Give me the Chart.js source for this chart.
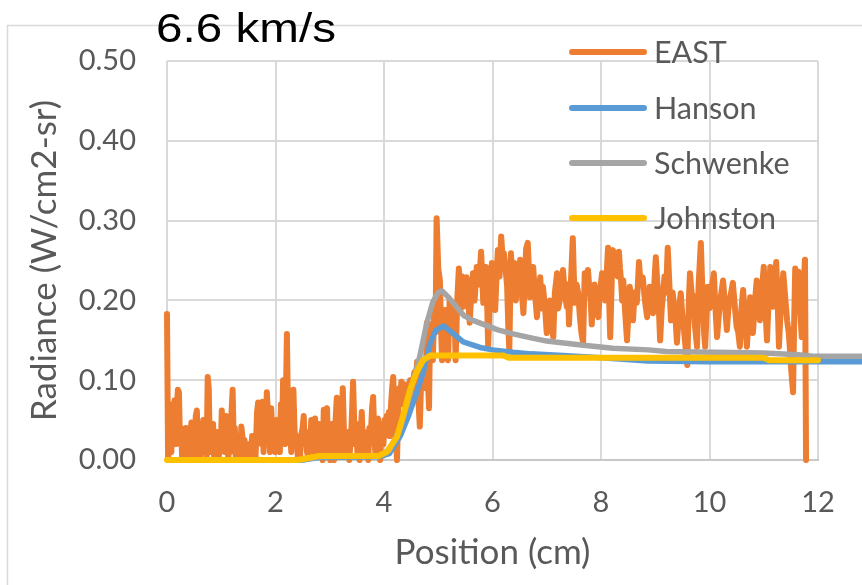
<!DOCTYPE html>
<html>
<head>
<meta charset="utf-8">
<script src="https://cdn.jsdelivr.net/npm/chart.js@4/dist/chart.umd.min.js"></script>
<style>
  html, body { margin: 0; padding: 0; background: #ffffff; }
  #wrap { width: 862px; height: 585px; }
</style>
</head>
<body>
<div id="wrap"><canvas id="c" width="862" height="585"></canvas></div>
<script>
// Measured radiance profile (EAST), position in cm
const eastX = [
  0.00, 0.02, 0.04, 0.06, 0.08, 0.10, 0.12, 0.14, 0.16, 0.18,
  0.20, 0.22, 0.24, 0.26, 0.28, 0.30, 0.32, 0.35, 0.37, 0.39,
  0.41, 0.43, 0.45, 0.47, 0.49, 0.51, 0.53, 0.55, 0.57, 0.59,
  0.61, 0.63, 0.65, 0.67, 0.69, 0.71, 0.73, 0.75, 0.77, 0.79,
  0.81, 0.83, 0.85, 0.87, 0.89, 0.91, 0.93, 0.95, 0.97, 0.99,
  1.01, 1.03, 1.05, 1.07, 1.09, 1.11, 1.13, 1.15, 1.17, 1.19,
  1.21, 1.23, 1.25, 1.27, 1.29, 1.31, 1.33, 1.35, 1.37, 1.39,
  1.41, 1.43, 1.45, 1.48, 1.50, 1.52, 1.54, 1.57, 1.59, 1.61,
  1.63, 1.66, 1.68, 1.70, 1.72, 1.74, 1.76, 1.78, 1.80, 1.82,
  1.84, 1.86, 1.88, 1.90, 1.92, 1.94, 1.96, 1.98, 2.00, 2.02,
  2.04, 2.06, 2.08, 2.10, 2.12, 2.14, 2.16, 2.18, 2.21, 2.23,
  2.25, 2.27, 2.29, 2.31, 2.33, 2.35, 2.37, 2.39, 2.41, 2.43,
  2.45, 2.47, 2.50, 2.52, 2.54, 2.56, 2.58, 2.60, 2.62, 2.64,
  2.66, 2.68, 2.70, 2.73, 2.75, 2.77, 2.79, 2.81, 2.83, 2.85,
  2.87, 2.89, 2.91, 2.93, 2.95, 2.97, 2.99, 3.01, 3.04, 3.06,
  3.08, 3.10, 3.13, 3.15, 3.17, 3.19, 3.21, 3.24, 3.26, 3.28,
  3.30, 3.32, 3.34, 3.36, 3.38, 3.40, 3.43, 3.45, 3.47, 3.49,
  3.51, 3.53, 3.55, 3.57, 3.59, 3.61, 3.63, 3.65, 3.67, 3.69,
  3.71, 3.73, 3.75, 3.78, 3.80, 3.82, 3.84, 3.86, 3.89, 3.91,
  3.93, 3.95, 3.97, 3.99, 4.01, 4.03, 4.05, 4.07, 4.09, 4.11,
  4.13, 4.15, 4.17, 4.19, 4.21, 4.24, 4.26, 4.28, 4.30, 4.32,
  4.34, 4.37, 4.39, 4.41, 4.43, 4.45, 4.48, 4.50, 4.52, 4.54,
  4.56, 4.58, 4.61, 4.63, 4.66, 4.68, 4.70, 4.72, 4.74, 4.77,
  4.79, 4.81, 4.83, 4.85, 4.87, 4.90, 4.93, 4.95, 4.97, 5.00,
  5.03, 5.05, 5.07, 5.10, 5.12, 5.15, 5.18, 5.21, 5.24, 5.27,
  5.30, 5.32, 5.35, 5.38, 5.40, 5.42, 5.44, 5.46, 5.49, 5.52,
  5.55, 5.58, 5.61, 5.64, 5.67, 5.71, 5.75, 5.79, 5.81, 5.83,
  5.86, 5.88, 5.90, 5.92, 5.95, 5.99, 6.02, 6.05, 6.08, 6.10,
  6.13, 6.16, 6.19, 6.21, 6.24, 6.27, 6.29, 6.31, 6.34, 6.37,
  6.40, 6.43, 6.45, 6.48, 6.51, 6.54, 6.57, 6.60, 6.62, 6.65,
  6.67, 6.69, 6.72, 6.75, 6.78, 6.82, 6.85, 6.88, 6.91, 6.93,
  6.97, 7.00, 7.03, 7.06, 7.09, 7.12, 7.15, 7.19, 7.21, 7.24,
  7.27, 7.30, 7.33, 7.37, 7.39, 7.41, 7.45, 7.48, 7.50, 7.52,
  7.55, 7.58, 7.61, 7.64, 7.67, 7.70, 7.73, 7.76, 7.78, 7.81,
  7.83, 7.85, 7.88, 7.91, 7.95, 7.98, 8.02, 8.05, 8.08, 8.11,
  8.13, 8.15, 8.17, 8.20, 8.22, 8.26, 8.29, 8.31, 8.33, 8.35,
  8.37, 8.39, 8.41, 8.45, 8.48, 8.51, 8.53, 8.56, 8.59, 8.62,
  8.66, 8.68, 8.70, 8.73, 8.77, 8.81, 8.85, 8.88, 8.90, 8.93,
  8.96, 8.99, 9.01, 9.04, 9.06, 9.09, 9.12, 9.14, 9.17, 9.20,
  9.23, 9.26, 9.29, 9.32, 9.35, 9.38, 9.40, 9.44, 9.47, 9.50,
  9.53, 9.56, 9.59, 9.62, 9.64, 9.67, 9.70, 9.73, 9.77, 9.80,
  9.84, 9.86, 9.88, 9.90, 9.92, 9.95, 9.97, 10.00, 10.02, 10.05,
  10.08, 10.11, 10.14, 10.17, 10.19, 10.22, 10.25, 10.29, 10.32, 10.35,
  10.37, 10.40, 10.43, 10.47, 10.50, 10.53, 10.56, 10.59, 10.62, 10.66,
  10.69, 10.72, 10.75, 10.78, 10.80, 10.84, 10.87, 10.90, 10.93, 10.96,
  11.00, 11.03, 11.06, 11.09, 11.12, 11.15, 11.17, 11.20, 11.23, 11.26,
  11.28, 11.32, 11.36, 11.40, 11.43, 11.46, 11.48, 11.51, 11.54, 11.56,
  11.58, 11.61, 11.64, 11.67, 11.70, 11.72, 11.76, 11.78
];
const eastY = [
  0.183, 0.000, 0.020, 0.050, 0.010, 0.070, 0.030, 0.075, 0.020, 0.060,
  0.088, 0.085, 0.020, 0.040, 0.000, 0.035, 0.010, 0.040, 0.000, 0.020,
  0.005, 0.030, 0.047, 0.010, 0.040, 0.000, 0.055, 0.062, 0.020, 0.040,
  0.005, 0.045, 0.030, 0.050, 0.010, 0.030, 0.000, 0.104, 0.090, 0.010,
  0.040, 0.020, 0.045, 0.000, 0.035, 0.020, 0.035, 0.000, 0.020, 0.010,
  0.062, 0.030, 0.050, 0.010, 0.055, 0.040, 0.000, 0.030, 0.010, 0.060,
  0.088, 0.020, 0.040, 0.000, 0.030, 0.010, 0.020, 0.000, 0.042, 0.030,
  0.010, 0.025, 0.000, 0.012, 0.000, 0.020, 0.000, 0.030, 0.010, 0.020,
  0.000, 0.060, 0.072, 0.030, 0.070, 0.020, 0.073, 0.010, 0.050, 0.030,
  0.085, 0.060, 0.040, 0.010, 0.065, 0.040, 0.020, 0.045, 0.010, 0.050,
  0.020, 0.040, 0.010, 0.070, 0.030, 0.100, 0.050, 0.020, 0.158, 0.060,
  0.030, 0.050, 0.010, 0.060, 0.088, 0.040, 0.020, 0.030, 0.005, 0.020,
  0.000, 0.030, 0.040, 0.055, 0.020, 0.035, 0.010, 0.005, 0.030, 0.020,
  0.050, 0.045, 0.010, 0.052, 0.020, 0.005, 0.040, 0.045, 0.010, 0.030,
  0.000, 0.063, 0.030, 0.055, 0.065, 0.010, 0.030, 0.000, 0.045, 0.020,
  0.000, 0.040, 0.078, 0.030, 0.010, 0.050, 0.020, 0.090, 0.040, 0.005,
  0.030, 0.010, 0.035, 0.000, 0.020, 0.040, 0.098, 0.050, 0.020, 0.040,
  0.010, 0.045, 0.000, 0.030, 0.060, 0.020, 0.005, 0.030, 0.010, 0.035,
  0.000, 0.040, 0.020, 0.065, 0.079, 0.030, 0.010, 0.040, 0.052, 0.020,
  0.000, 0.040, 0.045, 0.020, 0.050, 0.030, 0.055, 0.040, 0.060, 0.030,
  0.070, 0.090, 0.104, 0.060, 0.040, 0.000, 0.060, 0.090, 0.075, 0.098,
  0.070, 0.095, 0.085, 0.070, 0.095, 0.080, 0.100, 0.090, 0.075, 0.100,
  0.110, 0.090, 0.123, 0.080, 0.042, 0.090, 0.100, 0.120, 0.110, 0.090,
  0.172, 0.100, 0.065, 0.170, 0.130, 0.125, 0.200, 0.160, 0.303, 0.240,
  0.225, 0.170, 0.125, 0.160, 0.188, 0.140, 0.125, 0.200, 0.180, 0.159,
  0.190, 0.125, 0.200, 0.240, 0.210, 0.190, 0.230, 0.192, 0.210, 0.229,
  0.200, 0.172, 0.210, 0.234, 0.200, 0.242, 0.220, 0.261, 0.230, 0.197,
  0.230, 0.242, 0.200, 0.142, 0.200, 0.247, 0.220, 0.188, 0.240, 0.263,
  0.230, 0.280, 0.250, 0.259, 0.240, 0.217, 0.170, 0.138, 0.259, 0.220,
  0.247, 0.200, 0.213, 0.230, 0.251, 0.210, 0.184, 0.230, 0.265, 0.272,
  0.240, 0.204, 0.220, 0.242, 0.210, 0.179, 0.210, 0.229, 0.190, 0.217,
  0.190, 0.159, 0.180, 0.200, 0.170, 0.154, 0.210, 0.234, 0.190, 0.200,
  0.220, 0.238, 0.210, 0.192, 0.220, 0.170, 0.230, 0.278, 0.230, 0.197,
  0.220, 0.209, 0.180, 0.159, 0.147, 0.234, 0.210, 0.238, 0.220, 0.200,
  0.170, 0.204, 0.220, 0.190, 0.179, 0.210, 0.234, 0.220, 0.200, 0.240,
  0.266, 0.200, 0.154, 0.230, 0.263, 0.240, 0.259, 0.230, 0.261, 0.240,
  0.225, 0.200, 0.225, 0.180, 0.150, 0.190, 0.217, 0.200, 0.175, 0.210,
  0.197, 0.220, 0.248, 0.220, 0.229, 0.200, 0.179, 0.200, 0.217, 0.200,
  0.184, 0.230, 0.254, 0.220, 0.200, 0.150, 0.190, 0.204, 0.230, 0.210,
  0.266, 0.220, 0.175, 0.210, 0.192, 0.170, 0.147, 0.190, 0.209, 0.180,
  0.163, 0.140, 0.119, 0.200, 0.234, 0.210, 0.204, 0.170, 0.142, 0.220,
  0.272, 0.230, 0.197, 0.160, 0.142, 0.190, 0.217, 0.190, 0.200, 0.220,
  0.234, 0.190, 0.154, 0.180, 0.197, 0.210, 0.225, 0.190, 0.163, 0.190,
  0.200, 0.210, 0.222, 0.190, 0.167, 0.160, 0.142, 0.190, 0.213, 0.170,
  0.142, 0.180, 0.204, 0.180, 0.159, 0.200, 0.225, 0.200, 0.175, 0.210,
  0.242, 0.190, 0.150, 0.200, 0.242, 0.210, 0.192, 0.220, 0.248, 0.190,
  0.142, 0.200, 0.234, 0.200, 0.175, 0.160, 0.142, 0.110, 0.085, 0.170,
  0.240, 0.220, 0.236, 0.190, 0.154, 0.200, 0.251, 0.000
];

// Hanson model
const hansonX = [0.45, 2.50, 2.80, 3.90, 4.10, 4.30, 4.45, 4.60, 4.72, 4.85, 4.95, 5.10, 5.25, 5.46, 5.77, 6.00, 6.38, 6.71, 7.30, 8.00, 8.87, 10.00, 11.00, 12.90];
const hansonY = [0.000, 0.000, 0.003, 0.004, 0.008, 0.030, 0.055, 0.084, 0.109, 0.146, 0.162, 0.168, 0.160, 0.148, 0.141, 0.138, 0.135, 0.133, 0.131, 0.128, 0.124, 0.123, 0.123, 0.123];

// Schwenke model
const schwenkeX = [0.45, 2.50, 2.80, 3.90, 4.10, 4.30, 4.45, 4.54, 4.66, 4.79, 4.90, 5.00, 5.07, 5.20, 5.47, 5.64, 6.10, 6.38, 6.71, 7.00, 7.63, 8.22, 8.87, 9.20, 10.08, 11.00, 11.63, 11.90, 12.90];
const schwenkeY = [0.000, 0.000, 0.004, 0.005, 0.012, 0.040, 0.075, 0.100, 0.130, 0.172, 0.198, 0.210, 0.212, 0.203, 0.181, 0.175, 0.163, 0.158, 0.153, 0.149, 0.144, 0.140, 0.138, 0.136, 0.135, 0.134, 0.132, 0.130, 0.130];

// Johnston model
const johnstonX = [0.00, 2.40, 2.80, 3.90, 4.05, 4.24, 4.35, 4.48, 4.60, 4.72, 4.85, 6.20, 6.30, 11.00, 11.10, 12.00];
const johnstonY = [0.000, 0.000, 0.005, 0.005, 0.010, 0.029, 0.055, 0.088, 0.110, 0.125, 0.131, 0.131, 0.128, 0.128, 0.125, 0.125];

const xTicks = [0, 2, 4, 6, 8, 10, 12];
const yTicks = [0, 0.1, 0.2, 0.3, 0.4, 0.5];

const seriesNames = ['EAST', 'Hanson', 'Schwenke', 'Johnston'];
const seriesColors = ['#ED7D31', '#5B9BD5', '#A5A5A5', '#FFC000'];

const toPoints = (xs, ys) => xs.map((x, i) => ({ x: x, y: ys[i] }));

const TEXT_GRAY = '#595959';
const GRID = '#d9d9d9';

// Outer frame and heading
const framePlugin = {
  id: 'frame',
  beforeDraw(chart) {
    const ctx = chart.ctx;
    ctx.save();
    ctx.fillStyle = '#ffffff';
    ctx.fillRect(0, 0, chart.width, chart.height);
    ctx.strokeStyle = GRID;
    ctx.lineWidth = 1.5;
    ctx.strokeRect(7.5, 25.5, 1000, 1000);
    ctx.restore();
  },
  afterDraw(chart) {
    const ctx = chart.ctx;
    ctx.save();
    ctx.font = '40px "Liberation Sans", Arial, sans-serif';
    ctx.fillStyle = '#000000';
    ctx.textBaseline = 'alphabetic';
    const text = '6.6 km/s';
    const w = ctx.measureText(text).width;
    ctx.translate(156, 42);
    ctx.scale(180 / w, 1);
    ctx.fillText(text, 0, 0);
    ctx.restore();
  }
};

// Legend placed inside the plot, upper right
const legendPlugin = {
  id: 'insideLegend',
  afterDraw(chart) {
    const ctx = chart.ctx;
    const rows = [52, 108, 163, 218];
    ctx.save();
    ctx.lineCap = 'round';
    ctx.lineWidth = 6;
    ctx.font = '30.5px Lato, "Open Sans", sans-serif';
    ctx.textBaseline = 'middle';
    ctx.fillStyle = TEXT_GRAY;
    seriesNames.forEach((name, i) => {
      ctx.strokeStyle = seriesColors[i];
      ctx.beginPath();
      ctx.moveTo(572, rows[i]);
      ctx.lineTo(644, rows[i]);
      ctx.stroke();
      ctx.fillText(name, 654, rows[i] + 1);
    });
    ctx.restore();
  }
};

const lineDs = (i, xs, ys, width, order, clip) => ({
  label: seriesNames[i],
  data: toPoints(xs, ys),
  borderColor: seriesColors[i],
  backgroundColor: seriesColors[i],
  borderWidth: width,
  pointRadius: 0,
  tension: 0,
  borderJoinStyle: 'round',
  borderCapStyle: 'round',
  fill: false,
  order: order,
  clip: clip
});

new Chart(document.getElementById('c'), {
  type: 'line',
  data: {
    datasets: [
      lineDs(0, eastX, eastY, 6, 3, 8),
      lineDs(1, hansonX, hansonY, 5.5, 2, false),
      lineDs(2, schwenkeX, schwenkeY, 5.5, 1, false),
      lineDs(3, johnstonX, johnstonY, 6, 0, 8)
    ]
  },
  options: {
    responsive: false,
    animation: false,
    events: [],
    layout: { padding: { left: 0, top: 61, right: 44, bottom: 0 } },
    plugins: {
      legend: { display: false },
      tooltip: { enabled: false },
      title: { display: false }
    },
    scales: {
      x: {
        type: 'linear',
        min: 0,
        max: 12,
        afterBuildTicks(scale) { scale.ticks = xTicks.map(v => ({ value: v })); },
        afterFit(scale) { scale.height = 125; },
        grid: { color: GRID, lineWidth: 2, drawTicks: false },
        border: { display: true, color: '#c8c8c8', width: 2 },
        ticks: {
          color: TEXT_GRAY,
          font: { family: 'Lato', size: 29 },
          padding: 25,
          maxRotation: 0,
          callback: v => String(v)
        },
        title: {
          display: true,
          text: 'Position (cm)',
          color: TEXT_GRAY,
          font: { family: 'Lato', size: 35 },
          padding: { top: 0, bottom: 11 }
        }
      },
      y: {
        type: 'linear',
        min: 0,
        max: 0.5,
        afterBuildTicks(scale) { scale.ticks = yTicks.map(v => ({ value: v })); },
        afterFit(scale) { scale.width = 167; },
        grid: { color: GRID, lineWidth: 2, drawTicks: false },
        border: { display: false },
        ticks: {
          color: TEXT_GRAY,
          font: { family: 'Lato', size: 29 },
          padding: 31,
          callback: v => Number(v).toFixed(2)
        },
        title: {
          display: true,
          text: 'Radiance (W/cm2-sr)',
          color: TEXT_GRAY,
          font: { family: 'Lato', size: 35 },
          padding: { top: 24, bottom: 0 }
        }
      }
    }
  },
  plugins: [framePlugin, legendPlugin]
});
</script>
</body>
</html>
